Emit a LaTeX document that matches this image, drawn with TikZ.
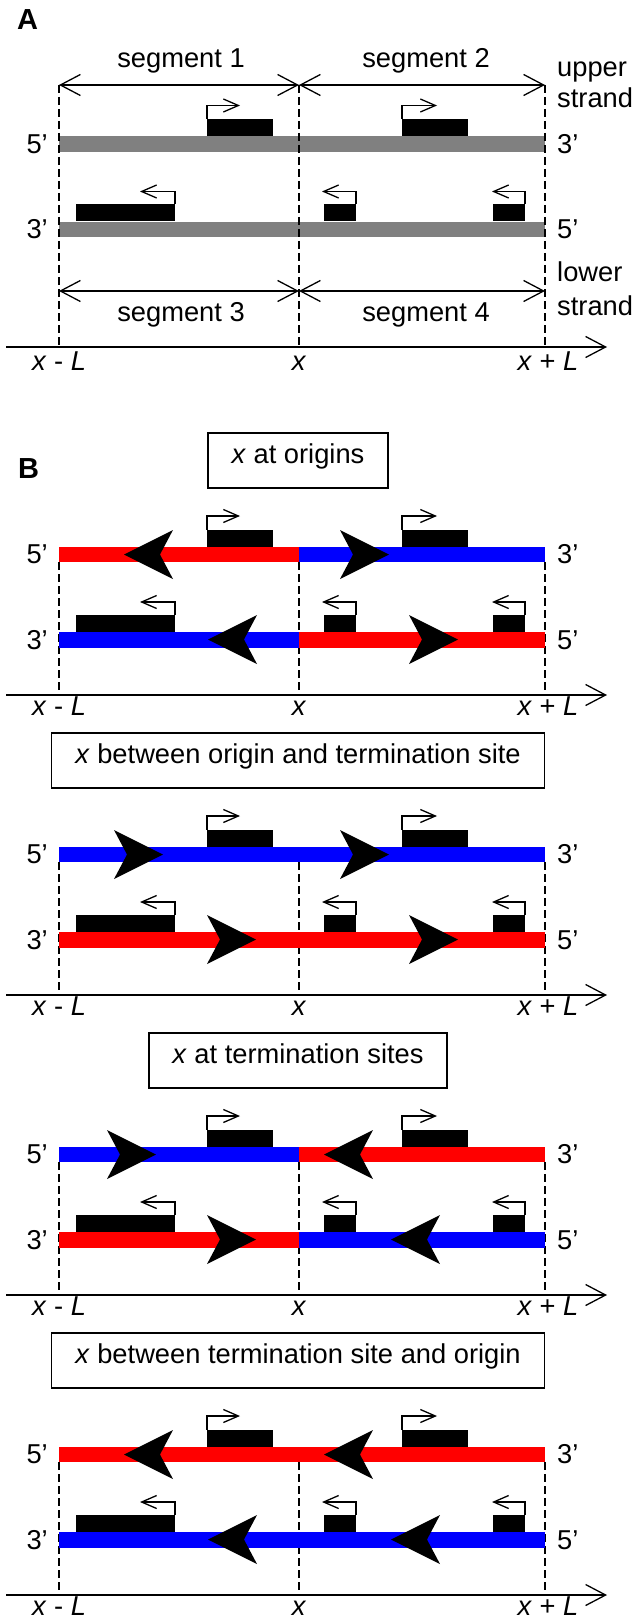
\documentclass[tikz,border=0pt]{standalone}
\usepackage{fontspec}
\setmainfont{Liberation Sans}
\usetikzlibrary{arrows.meta}
\definecolor{strandgrey}{RGB}{128,128,128}
\definecolor{fwdred}{RGB}{255,0,0}
\definecolor{revblue}{RGB}{0,0,255}

\begin{document}
\begin{tikzpicture}[x=1pt,y=-1pt,
  every node/.style={font=\fontsize{27.3}{32}\selectfont,inner sep=0pt},
  panel/.style={anchor=base west,font=\fontsize{29}{29}\selectfont\bfseries},
  endlbl/.style={anchor=base east},
  barb/.style={line width=1.3pt,-{Straight Barb[length=20pt,width=21pt]}},
  span/.style={line width=1.3pt,{Straight Barb[length=20pt,width=21pt]}-{Straight Barb[length=20pt,width=21pt]}},
  prom/.style={line width=1.3pt,-{Straight Barb[length=15pt,width=13pt]}},
  guide/.style={line width=1.2pt,dash pattern=on 8pt off 4pt},
  casebox/.style={draw,line width=1.3pt,minimum height=55pt,inner xsep=23.5pt,text height=0.75em,text depth=0.25em},
  lhead/.pic={\fill (0,0) -- (49,-24.5) -- (36,0) -- (49,24.5) -- cycle;},
  rhead/.pic={\fill (0,0) -- (-49,-24.5) -- (-36,0) -- (-49,24.5) -- cycle;}]

  \useasboundingbox (0,0) rectangle (638,1621);

  % panel A
  \node (labA) [panel] at (17,30) {A};
  \coordinate (s1L) at (59,85);
  \coordinate (s1M) at (299,85);
  \coordinate (s1R) at (545,85);
  \coordinate (s3L) at (59,291);
  \coordinate (s3M) at (299,291);
  \coordinate (s3R) at (545,291);
  \coordinate (axA0) at (6,347);
  \coordinate (axA1) at (607,347);

  \fill[strandgrey] (59,136.25) rectangle (545,151.75);
  \fill[strandgrey] (59,221.75) rectangle (545,237.25);

  \draw[guide] (s1L) -- (s1L |- axA0);
  \draw[guide] (s1M) -- (s1M |- axA0);
  \draw[guide] (s1R) -- (s1R |- axA0);

  \draw[span] (s1L) -- (s1M);
  \draw[span] (s1M) -- (s1R);
  \draw[span] (s3L) -- (s3M);
  \draw[span] (s3M) -- (s3R);
  \draw[barb] (axA0) -- (axA1);

  \node (seg1) [anchor=base] at (181,68) {segment 1};
  \node (seg2) [anchor=base] at (426,68) {segment 2};
  \node (seg3) [anchor=base] at (181,321.5) {segment 3};
  \node (seg4) [anchor=base] at (426,321.5) {segment 4};
  \node (up1) [anchor=base west] at (557,76.5) {upper};
  \node (up2) [anchor=base west] at (557,108) {strand};
  \node (lo1) [anchor=base west] at (557,281.5) {lower};
  \node (lo2) [anchor=base west] at (557,315) {strand};
  \node (pA5) [endlbl] at (48,153.3) {5’};
  \node (pA3) [anchor=base west] at (557,153.3) {3’};
  \node (qA3) [endlbl] at (48,238.5) {3’};
  \node (qA5) [anchor=base west] at (557,238.5) {5’};
  \node (xlA) [anchor=base] at (59,370.5) {\textit{x} - \textit{L}};
  \node (xmA) [anchor=base] at (299,370.5) {\textit{x}};
  \node (xrA) [anchor=base] at (548,370.5) {\textit{x} + \textit{L}};

  % genes and promoters, same in every panel
  \foreach \yu in {144,554.5,854.5,1154.5,1454.5} {
    \fill (207,\yu-24.75) rectangle (273,\yu-7.75);
    \fill (402,\yu-24.75) rectangle (468,\yu-7.75);
    \fill (76,\yu+60.5) rectangle (175,\yu+77.5);
    \fill (324,\yu+60.5) rectangle (356,\yu+77.5);
    \fill (493,\yu+60.5) rectangle (525,\yu+77.5);
    \draw[prom] (207,\yu-24.75) |- (240,\yu-38.5);
    \draw[prom] (402,\yu-24.75) |- (437,\yu-38.5);
    \draw[prom] (175,\yu+60.5) |- (140,\yu+47.5);
    \draw[prom] (356,\yu+60.5) |- (322,\yu+47.5);
    \draw[prom] (525,\yu+60.5) |- (492,\yu+47.5);
  }

  % panel B
  \node (labB) [panel] at (18,478) {B};
  \foreach \k/\casetxt/\ul/\ur/\ll/\lr in {
    0/{\textit{x} at origins}/fwdred/revblue/revblue/fwdred,
    1/{\textit{x} between origin and termination site}/revblue/revblue/fwdred/fwdred,
    2/{\textit{x} at termination sites}/revblue/fwdred/fwdred/revblue,
    3/{\textit{x} between termination site and origin}/fwdred/fwdred/revblue/revblue} {
    \begin{scope}[shift={(0,300*\k)}]
      \node (case\k) [casebox] at (298,460.5) {\casetxt};
      \coordinate (axa\k) at (6,695);
      \coordinate (axb\k) at (607,695);
      \coordinate (l\k) at (59,562.25);
      \coordinate (m\k) at (299,562.25);
      \coordinate (r\k) at (545,562.25);
      \draw[guide] (l\k) -- (l\k |- axa\k);
      \draw[guide] (m\k) -- (m\k |- axa\k);
      \draw[guide] (r\k) -- (r\k |- axa\k);
      \fill[\ul] (59,546.75) rectangle (299,562.25);
      \fill[\ur] (299,546.75) rectangle (545,562.25);
      \fill[\ll] (59,632) rectangle (299,647.5);
      \fill[\lr] (299,632) rectangle (545,647.5);
      \draw[barb] (axa\k) -- (axb\k);
      \node (p5\k) [endlbl] at (48,563.8) {5’};
      \node (p3\k) [anchor=base west] at (557,563.8) {3’};
      \node (q3\k) [endlbl] at (48,649) {3’};
      \node (q5\k) [anchor=base west] at (557,649) {5’};
      \node (xl\k) [anchor=base] at (59,715) {\textit{x} - \textit{L}};
      \node (xm\k) [anchor=base] at (299,715) {\textit{x}};
      \node (xr\k) [anchor=base] at (548,715) {\textit{x} + \textit{L}};
    \end{scope}
  }

  % fork directions
  \pic at (124,554.5) {lhead};
  \pic at (389,554.5) {rhead};
  \pic at (208,639.5) {lhead};
  \pic at (458,639.5) {rhead};

  \pic at (163,854.5) {rhead};
  \pic at (389,854.5) {rhead};
  \pic at (256,939.5) {rhead};
  \pic at (458,939.5) {rhead};

  \pic at (156,1154.5) {rhead};
  \pic at (324,1154.5) {lhead};
  \pic at (256,1239.5) {rhead};
  \pic at (391,1239.5) {lhead};

  \pic at (124,1454.5) {lhead};
  \pic at (324,1454.5) {lhead};
  \pic at (208,1539.5) {lhead};
  \pic at (391,1539.5) {lhead};

\end{tikzpicture}
\end{document}
